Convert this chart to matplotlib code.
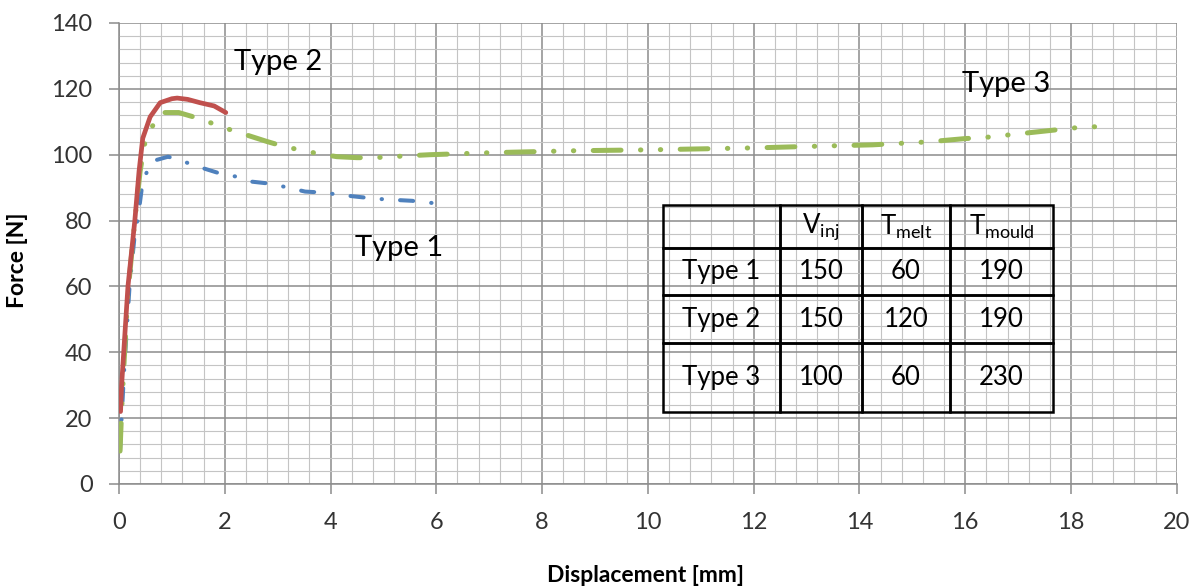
import matplotlib
matplotlib.use("Agg")
import matplotlib.pyplot as plt
import numpy as np
from matplotlib.ticker import MultipleLocator

# 曲线数据
type1_x = [0.02, 0.05, 0.1, 0.2, 0.3, 0.36, 0.45, 0.62, 0.93, 1.28, 1.57, 1.87, 2.23, 2.52,
           2.86, 3.2, 3.52, 3.86, 4.18, 4.52, 4.88, 5.18, 5.54, 5.88, 5.95]
type1_y = [10, 20, 35, 60, 76, 81, 92, 98, 99.4, 97.6, 96, 94.5, 93.3, 91.8,
           91.2, 90, 88.8, 88.5, 87.8, 87.2, 86.6, 86.3, 86, 85.4, 85.3]

type2_x = [0.03, 0.05, 0.09, 0.17, 0.3, 0.38, 0.45, 0.59, 0.78, 1.0, 1.1, 1.3, 1.53, 1.8, 2.02]
type2_y = [22, 30, 40, 60, 80, 95, 105, 111.5, 115.8, 117, 117.2, 116.8, 115.8, 114.8, 112.8]

type3_x = [0.02, 0.05, 0.1, 0.17, 0.3, 0.4, 0.49, 0.59, 0.8, 1.13, 1.47, 2.1, 2.45, 2.8,
           3.14, 3.77, 4.12, 4.5, 4.84, 5.5, 5.88, 7.0, 8.6, 10.1, 12.1, 13.0, 14.25,
           15.3, 16.0, 16.35, 16.7, 17.05, 17.75, 18.1, 18.47]
type3_y = [10, 22, 38, 58, 80, 95, 103.6, 107.6, 112.8, 112.8, 111.2, 107.6, 105.8, 104,
           102.4, 100.3, 99.4, 99.1, 99.1, 99.7, 100, 100.6, 101.2, 101.5, 102.1, 102.5, 103,
           103.9, 104.9, 105.2, 105.8, 106.4, 107.6, 108.2, 108.5]

# 表格数据
col_labels = ["", r"V$_{\mathrm{inj}}$", r"T$_{\mathrm{melt}}$", r"T$_{\mathrm{mould}}$"]
row_labels = ["Type 1", "Type 2", "Type 3"]
v_inj = ["150", "150", "100"]
t_melt = ["60", "120", "60"]
t_mould = ["190", "190", "230"]

plt.rcParams['font.family'] = ['Lato', 'DejaVu Sans']
plt.rcParams['mathtext.fontset'] = 'custom'
plt.rcParams['mathtext.rm'] = 'Lato'
plt.rcParams['lines.scale_dashes'] = False

fig = plt.figure(figsize=(11.98, 5.88), dpi=100)
ax = fig.add_axes([0.0993, 0.1769, 0.9823 - 0.0993, 0.9609 - 0.1769])

ax.set_xlim(0, 20)
ax.set_ylim(0, 140)
ax.xaxis.set_major_locator(MultipleLocator(2))
ax.xaxis.set_minor_locator(MultipleLocator(0.4))
ax.yaxis.set_major_locator(MultipleLocator(20))
ax.yaxis.set_minor_locator(MultipleLocator(4))
ax.grid(which='major', color='#8c8c8c', lw=1.1)
ax.grid(which='minor', color='#c4c4c4', lw=0.8)
ax.set_axisbelow(True)

for s in ['top', 'right']:
    ax.spines[s].set_visible(False)
for s in ['left', 'bottom']:
    ax.spines[s].set_color('#8c8c8c')
    ax.spines[s].set_linewidth(1.1)

ax.tick_params(which='major', direction='out', length=7, width=1.1, color='#8c8c8c',
               labelsize=17, labelcolor='#333333')
ax.tick_params(which='minor', length=0)
ax.tick_params(axis='x', pad=13)
ax.tick_params(axis='y', pad=12)

ax.set_xlabel("Displacement [mm]", fontsize=16.5, fontweight='bold')
ax.set_ylabel("Force [N]", fontsize=16.5, fontweight='bold')
ax.xaxis.set_label_coords(0.498, -0.176)
ax.yaxis.set_label_coords(-0.086, 0.485)

# 曲线
ax.plot(type1_x, type1_y, color='#4F81BD', lw=2.9, solid_capstyle='round',
        dash_capstyle='round', dashes=[9.5, 13, 0.3, 13], zorder=2.6)
ax.plot(type3_x, type3_y, color='#9BBB59', lw=3.6, solid_capstyle='round',
        dash_capstyle='round', dashes=[20, 14, 0.3, 14, 0.3, 14], zorder=3)
ax.plot(type2_x, type2_y, color='#C0504D', lw=3.4, solid_capstyle='round', zorder=4)

ax.text(2.18, 128.3, "Type 2", fontsize=21, va='center', ha='left')
ax.text(4.47, 71.7, "Type 1", fontsize=21, va='center', ha='left')
ax.text(15.93, 121.6, "Type 3", fontsize=21, va='center', ha='left')

# 参数表
cell_text = [[row_labels[i], v_inj[i], t_melt[i], t_mould[i]] for i in range(3)]
tbl = ax.table(cellText=[col_labels] + cell_text, cellLoc='center',
               bbox=[0.514, 0.156, 0.883 - 0.514, 0.605 - 0.156])
tbl.set_zorder(5)
tbl.auto_set_font_size(False)
col_w = [117, 82, 88, 103]
row_h = [43, 47, 48, 69]
for (r, c), cell in tbl.get_celld().items():
    cell.set_width(col_w[c])
    cell.set_height(row_h[r])
    cell.set_facecolor('none')
    cell.set_edgecolor('black')
    cell.set_linewidth(1.8)
    cell.get_text().set_fontsize(18.5)

fig.savefig("out.png", dpi=100)
